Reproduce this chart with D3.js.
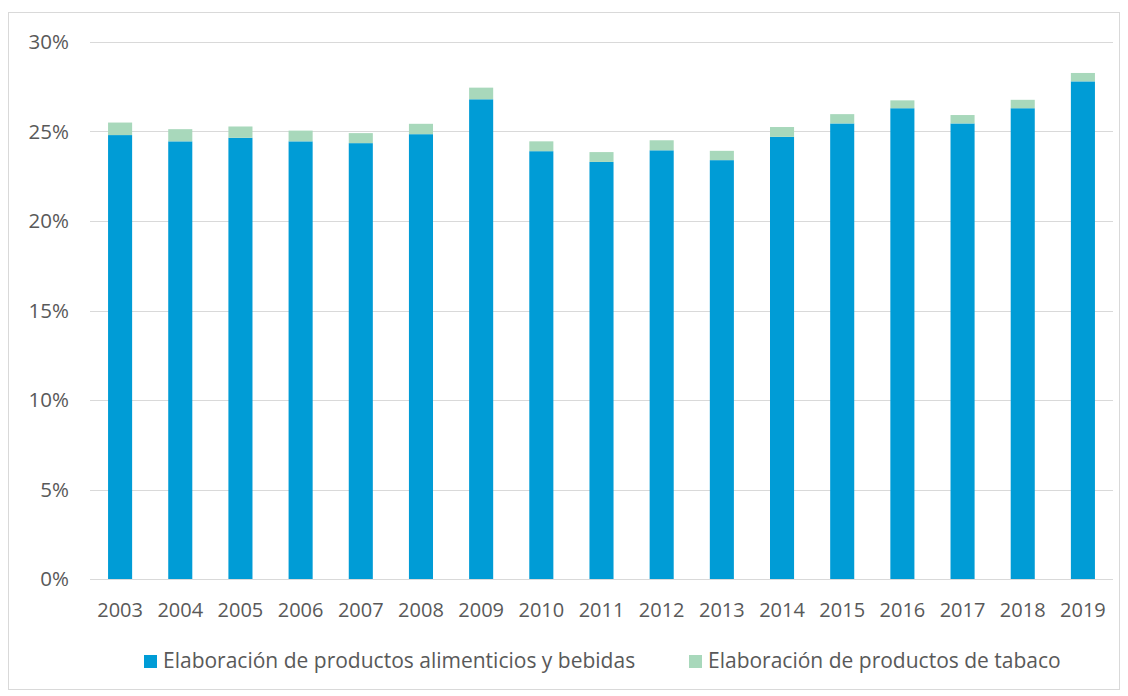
<!DOCTYPE html>
<html>
<head>
<meta charset="utf-8">
<script src="https://cdn.jsdelivr.net/npm/d3@7"></script>
<style>
  body { margin: 0; background: #fff; }
  svg text { font-family: "Open Sans", sans-serif; fill: #595959; }
</style>
</head>
<body>
<div id="chart"></div>
<script>
// years on the x axis
var years = ["2003","2004","2005","2006","2007","2008","2009","2010","2011",
             "2012","2013","2014","2015","2016","2017","2018","2019"];
// share (%) - food and beverages
var alimentos = [24.8, 24.45, 24.65, 24.45, 24.35, 24.85, 26.8, 23.9, 23.3,
                 23.95, 23.4, 24.7, 25.45, 26.3, 25.45, 26.3, 27.8];
// share (%) - tobacco
var tabaco = [0.7, 0.68, 0.63, 0.6, 0.56, 0.58, 0.65, 0.55, 0.55,
              0.56, 0.52, 0.55, 0.52, 0.44, 0.47, 0.47, 0.47];
var yTicks = [0, 5, 10, 15, 20, 25, 30];
var seriesNames = ["Elaboración de productos alimenticios y bebidas",
                   "Elaboración de productos de tabaco"];
var colors = ["#009cd6", "#a8d8bb"];

var W = 1128, H = 696;
var margin = {top: 42, right: 15, bottom: 117, left: 90};
var width = 1113 - margin.left, height = 579 - margin.top;

var svg = d3.select("#chart").append("svg")
    .attr("width", W).attr("height", H);

// outer frame
svg.append("rect")
    .attr("x", 8.5).attr("y", 12.5)
    .attr("width", 1111).attr("height", 677)
    .attr("fill", "none").attr("stroke", "#d9d9d9").attr("stroke-width", 1);

var g = svg.append("g")
    .attr("transform", "translate(" + margin.left + "," + margin.top + ")");

var x = d3.scaleBand().domain(years).range([0, width]).paddingInner(0.6).paddingOuter(0.3);
var y = d3.scaleLinear().domain([0, 30]).range([height, 0]);

// grid lines
g.selectAll(".grid").data(yTicks.filter(function(d) { return d > 0; }))
  .enter().append("line")
    .attr("x1", 0).attr("x2", width)
    .attr("y1", function(d) { return Math.round(y(d)) + 0.5; })
    .attr("y2", function(d) { return Math.round(y(d)) + 0.5; })
    .attr("stroke", "#d9d9d9").attr("stroke-width", 1);

// stacked bars
var data = years.map(function(yr, i) { return {year: yr, a: alimentos[i], t: tabaco[i]}; });
var stack = d3.stack().keys(["a", "t"])(data);

g.selectAll(".serie").data(stack).enter().append("g")
    .attr("fill", function(d, i) { return colors[i]; })
  .selectAll("rect").data(function(d) { return d; })
  .enter().append("rect")
    .attr("x", function(d) { return x(d.data.year); })
    .attr("width", x.bandwidth())
    .attr("y", function(d) { return y(d[1]); })
    .attr("height", function(d) { return y(d[0]) - y(d[1]); });

// baseline
g.append("line")
    .attr("x1", 0).attr("x2", width)
    .attr("y1", height + 0.5).attr("y2", height + 0.5)
    .attr("stroke", "#d9d9d9").attr("stroke-width", 1);

// y axis labels
var yAxis = g.append("g")
    .call(d3.axisLeft(y).tickValues(yTicks).tickSize(0).tickPadding(21)
          .tickFormat(function(d) { return d + "%"; }));
yAxis.select(".domain").remove();
yAxis.selectAll("text").attr("font-size", 20.5).attr("fill", "#595959")
    .attr("font-family", "Open Sans, sans-serif");

// x axis labels
var xAxis = g.append("g")
    .attr("transform", "translate(0," + height + ")")
    .call(d3.axisBottom(x).tickSize(0).tickPadding(24));
xAxis.select(".domain").remove();
xAxis.selectAll("text").attr("font-size", 20).attr("fill", "#595959")
    .attr("font-family", "Open Sans, sans-serif");

// legend
var legendX = [144, 689];
var leg = svg.selectAll(".leg").data(seriesNames).enter().append("g")
    .attr("transform", function(d, i) { return "translate(" + legendX[i] + ",655)"; });
leg.append("rect").attr("width", 13).attr("height", 13)
    .attr("fill", function(d, i) { return colors[i]; });
leg.append("text").attr("x", 19).attr("y", 13)
    .attr("font-size", 21)
    .text(function(d) { return d; });
</script>
</body>
</html>
